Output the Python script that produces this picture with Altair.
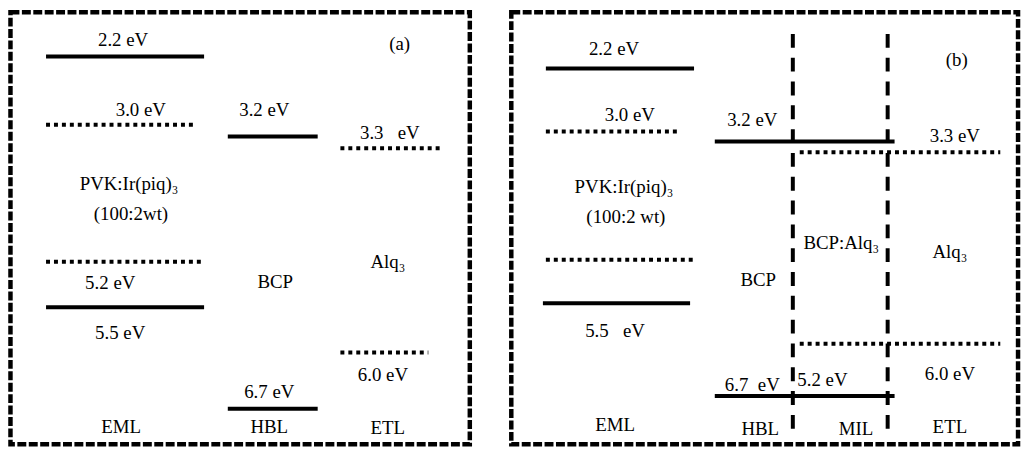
import altair as alt
import pandas as pd

# ---- panel frames (diagram units) ----
panel_names = ["a", "b"]
panel_x0 = [6, 513]
panel_x1 = [471, 1026]
panel_y0 = [5, 5]
panel_y1 = [443, 443]

# ---- energy levels ----
lvl_panel = ["a"] * 8 + ["b"] * 8
lvl_kind = ["solid", "dotted", "solid", "dotted", "dotted", "solid", "dotted", "solid",
            "solid", "dotted", "solid", "dotted", "dotted", "solid", "dotted", "solid"]
lvl_x0 = [42, 42, 226, 340, 42, 42, 340, 226,
          548, 548, 719, 805, 548, 545, 805, 719]
lvl_x1 = [202, 191, 317, 443, 199, 202, 429, 317,
          698, 682, 901, 1008, 698, 694, 1008, 901]
lvl_y = [50, 119, 131, 143, 258, 304, 350, 407,
         62, 126, 136, 147, 256, 300, 341, 394]

# ---- layer boundaries in panel (b) ----
bound_x = [798, 894]
bound_y0 = [27, 27]
bound_y1 = [430, 430]

# ---- text labels ----
NB = "\u00a0"
lab_text = ["2.2 eV", "3.0 eV", "3.2 eV", "3.3" + NB * 3 + "eV", "PVK:Ir(piq)₃", "(100:2wt)",
            "5.2 eV", "5.5 eV", "BCP", "Alq₃", "6.0 eV", "6.7 eV", "EML", "HBL", "ETL", "(a)",
            "2.2 eV", "3.0 eV", "3.2 eV", "3.3 eV", "PVK:Ir(piq)₃", "(100:2 wt)",
            "5.5" + NB * 3 + "eV", "BCP", "BCP:Alq₃", "Alq₃", "6.0 eV", "6.7" + NB * 2 + "eV",
            "5.2 eV", "EML", "HBL", "MIL", "ETL", "(b)"]
lab_x = [120, 138, 263, 390, 126, 128, 107, 117, 274, 388, 383, 268, 118, 268, 388, 400,
         617, 633, 757, 962, 627, 629, 618, 763, 847, 957, 957, 757, 828, 618, 765, 862, 957, 964]
lab_y = [33, 104, 104, 127, 179, 210, 280, 330, 279, 258, 373, 390, 425, 425, 427, 37,
         42, 109, 114, 131, 182, 213, 328, 277, 239, 248, 372, 383, 378, 423, 428, 428, 425, 53]

frames = pd.DataFrame({"panel": panel_names, "x0": panel_x0, "x1": panel_x1,
                       "y0": panel_y0, "y1": panel_y1})
levels = pd.DataFrame({"panel": lvl_panel, "kind": lvl_kind, "x0": lvl_x0,
                       "x1": lvl_x1, "y": lvl_y})
bounds = pd.DataFrame({"x": bound_x, "y0": bound_y0, "y1": bound_y1})
labels = pd.DataFrame({"text": lab_text, "x": lab_x, "y": lab_y})

xs = alt.Scale(domain=[4.5, 1030], nice=False, zero=False)
ys = alt.Scale(domain=[3.5, 446], nice=False, zero=False, reverse=True)

X = lambda f: alt.X(f"{f}:Q", scale=xs, axis=None)
Y = lambda f: alt.Y(f"{f}:Q", scale=ys, axis=None)

frame_layer = alt.Chart(frames).mark_rect(
    fillOpacity=0, stroke="black", strokeWidth=4.5, strokeDash=[9, 2.5]
).encode(x=X("x0"), x2="x1", y=Y("y0"), y2="y1")

solid_layer = alt.Chart(levels).transform_filter(
    alt.datum.kind == "solid"
).mark_rule(color="black", strokeWidth=4).encode(x=X("x0"), x2="x1", y=Y("y"))

dotted_layer = alt.Chart(levels).transform_filter(
    alt.datum.kind == "dotted"
).mark_rule(color="black", strokeWidth=4, strokeDash=[4, 4]).encode(
    x=X("x0"), x2="x1", y=Y("y"))

bound_layer = alt.Chart(bounds).mark_rule(
    color="black", strokeWidth=4, strokeDash=[14, 10]
).encode(x=X("x"), y=Y("y0"), y2="y1")

text_layer = alt.Chart(labels).mark_text(
    font="'Times New Roman', 'Liberation Serif', 'DejaVu Serif', serif",
    fontSize=19, color="black", baseline="middle", align="center"
).encode(x=X("x"), y=Y("y"), text="text:N")

chart = alt.layer(frame_layer, solid_layer, dotted_layer, bound_layer, text_layer).properties(
    width=1022, height=441, padding=0,
    autosize=alt.AutoSizeParams(type="fit", contains="padding"),
    background="white",
).configure_view(strokeWidth=0)

chart.save("out.html", embed_options={"renderer": "svg", "actions": False})
